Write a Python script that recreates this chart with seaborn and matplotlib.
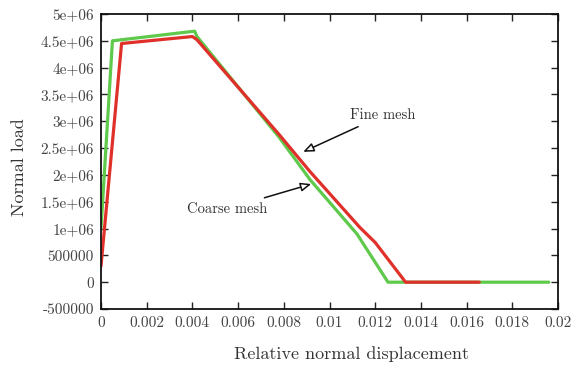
import matplotlib
matplotlib.use("Agg")
import matplotlib.pyplot as plt
import seaborn as sns

# Data
coarse_x = [0.0, 0.0005, 0.0041, 0.0042, 0.0078, 0.00915, 0.0112, 0.01256, 0.0196]
coarse_y = [1.0e6, 4.5e6, 4.68e6, 4.58e6, 2.70e6, 1.91e6, 0.9e6, 0.0, 0.0]
fine_x = [0.0, 0.0009, 0.0040, 0.0042, 0.0078, 0.00915, 0.01133, 0.0120, 0.01333, 0.01655]
fine_y = [3.0e5, 4.45e6, 4.58e6, 4.52e6, 2.75e6, 2.06e6, 1.02e6, 0.74e6, 0.0, 0.0]

x_ticks = [0, 0.002, 0.004, 0.006, 0.008, 0.01, 0.012, 0.014, 0.016, 0.018, 0.02]
x_ticklabels = ["0", "0.002", "0.004", "0.006", "0.008", "0.01", "0.012", "0.014", "0.016", "0.018", "0.02"]
y_ticks = [-5e5, 0, 5e5, 1e6, 1.5e6, 2e6, 2.5e6, 3e6, 3.5e6, 4e6, 4.5e6, 5e6]
y_ticklabels = ["-500000", "0", "500000", "1e+06", "1.5e+06", "2e+06", "2.5e+06",
                "3e+06", "3.5e+06", "4e+06", "4.5e+06", "5e+06"]

sns.set_style("ticks")
plt.rcParams["font.family"] = ["cmr10", "DejaVu Serif"]
plt.rcParams["axes.unicode_minus"] = False
plt.rcParams["mathtext.fontset"] = "cm"

fig = plt.figure(figsize=(5.86, 3.70), dpi=100)
ax = fig.add_axes([101 / 586, 1 - 309 / 370, (558 - 101) / 586, (309 - 14) / 370])

sns.lineplot(x=coarse_x, y=coarse_y, sort=False, color="#5ec94a", linewidth=2.3, ax=ax)
sns.lineplot(x=fine_x, y=fine_y, sort=False, color="#e0302a", linewidth=2.3, ax=ax)

ax.set_xlim(0, 0.02)
ax.set_ylim(-5e5, 5e6)
ax.set_xticks(x_ticks)
ax.set_xticklabels(x_ticklabels)
ax.set_yticks(y_ticks)
ax.set_yticklabels(y_ticklabels)
ax.tick_params(direction="in", length=5, width=1, top=True, right=True,
               labelsize=11, labelcolor="#444444", pad=5, color="#222222")
for s in ax.spines.values():
    s.set_linewidth(1.3)
    s.set_color("#111111")

ax.set_xlabel("Relative normal displacement", fontsize=13, color="#333333")
ax.xaxis.set_label_coords(0.549, -0.125)
ax.set_ylabel("Normal load", fontsize=13, color="#333333")
ax.yaxis.set_label_coords(-0.162, 0.48)

arrow = dict(arrowstyle="-|>,head_width=0.25,head_length=0.6", edgecolor="#111111",
             facecolor="white", lw=1.1, shrinkA=2, shrinkB=0)
ax.annotate("Fine mesh", xy=(0.00885, 2.43e6), xytext=(0.0109, 3.11e6),
            fontsize=10.5, color="#333333", va="center", ha="left", arrowprops=arrow)
ax.annotate("Coarse mesh", xy=(0.0092, 1.83e6), xytext=(0.00728, 1.37e6),
            fontsize=10.5, color="#333333", va="center", ha="right", arrowprops=arrow)

fig.savefig("out.png", dpi=100)
